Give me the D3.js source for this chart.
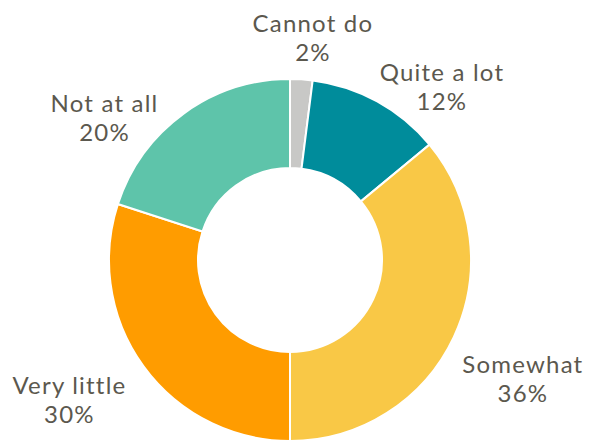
<!DOCTYPE html>
<html>
<head>
<meta charset="utf-8">
<script src="https://cdn.jsdelivr.net/npm/d3@7"></script>
<style>
  html, body { margin: 0; padding: 0; background: #ffffff; }
  svg { display: block; }
</style>
</head>
<body>
<svg id="chart" width="592" height="448"></svg>
<script>
// Survey answers, in clockwise order starting at 12 o'clock
const categories = ["Cannot do", "Quite a lot", "Somewhat", "Very little", "Not at all"];
const values = [2, 12, 36, 30, 20];
const valueLabels = ["2%", "12%", "36%", "30%", "20%"];

// Slice colours
const colors = ["#c8c8c6", "#008c9b", "#f9c846", "#ff9c00", "#5ec4aa"];

// Extra nudges that push each label clear of the ring
const labelNudge = [[9, 0], [45, 22], [32, 25], [-41, 10], [-55, 38]];

const width = 592, height = 448;
const cx = 290, cy = 260;
const outerR = 181, innerR = 92;

const svg = d3.select("#chart");
const g = svg.append("g").attr("transform", `translate(${cx},${cy})`);

const data = categories.map((c, i) => ({ category: c, value: values[i], label: valueLabels[i], i }));

const pie = d3.pie()
  .value(d => d.value)
  .sort(null);

const arcs = pie(data);

const arc = d3.arc().innerRadius(innerR).outerRadius(outerR);
const labelArc = d3.arc().innerRadius(222).outerRadius(222);

const color = d3.scaleOrdinal().domain(categories).range(colors);

g.selectAll("path.slice")
  .data(arcs)
  .join("path")
  .attr("class", "slice")
  .attr("d", arc)
  .attr("fill", d => color(d.data.category))
  .attr("stroke", "#ffffff")
  .attr("stroke-width", 2)
  .attr("stroke-linejoin", "miter");

// Two-line labels: category name above, percentage below
const labels = g.selectAll("g.label")
  .data(arcs)
  .join("g")
  .attr("class", "label")
  .attr("transform", d => {
    const [x, y] = labelArc.centroid(d);
    const [nx, ny] = labelNudge[d.data.i];
    return `translate(${x + nx},${y + ny})`;
  })
  .attr("text-anchor", "middle")
  .attr("font-family", "Lato, sans-serif")
  .attr("font-size", 24)
  .attr("letter-spacing", 1.2)
  .attr("fill", "#5b584e");

labels.append("text")
  .attr("x", 0)
  .attr("y", -6.5)
  .text(d => d.data.category);

labels.append("text")
  .attr("x", 0)
  .attr("y", 22.5)
  .text(d => d.data.label);
</script>
</body>
</html>
